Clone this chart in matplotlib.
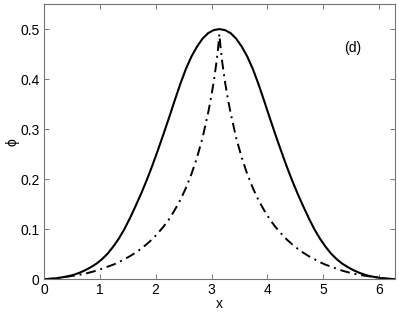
import numpy as np
import matplotlib.pyplot as plt

plt.rcParams["font.family"] = ["Liberation Sans", "DejaVu Sans"]

# solid curve
x_solid = [0, 0.14, 0.24, 0.34, 0.44, 0.54, 0.64, 0.74, 0.84, 0.94, 1.04, 1.14, 1.24,
           1.34, 1.44, 1.54, 1.64, 1.74, 1.84, 1.94, 2.04, 2.14, 2.24, 2.34, 2.44, 2.54,
           2.64, 2.74, 2.84, 2.94, 3.04, 3.14, 3.24, 3.34, 3.44, 3.54, 3.64, 3.74, 3.84,
           3.94, 4.04, 4.14, 4.24, 4.34, 4.44, 4.54, 4.64, 4.74, 4.84, 4.94, 5.04, 5.14,
           5.24, 5.34, 5.44, 5.54, 5.64, 5.74, 5.84, 5.94, 6.04, 6.14, 6.283]
phi_solid = [0, 0.001, 0.002, 0.004, 0.006, 0.009, 0.013, 0.018, 0.024, 0.031, 0.04,
             0.051, 0.065, 0.081, 0.1, 0.122, 0.146, 0.171, 0.198, 0.227, 0.258, 0.29,
             0.323, 0.357, 0.39, 0.42, 0.445, 0.465, 0.481, 0.492, 0.498, 0.5, 0.498,
             0.492, 0.481, 0.465, 0.445, 0.42, 0.39, 0.357, 0.323, 0.29, 0.258, 0.227,
             0.198, 0.171, 0.146, 0.122, 0.1, 0.081, 0.065, 0.051, 0.04, 0.031, 0.024,
             0.018, 0.013, 0.009, 0.006, 0.004, 0.002, 0.001, 0]

# dash-dot curve
x_dash = [0, 0.14, 0.34, 0.54, 0.74, 0.94, 1.04, 1.14, 1.24, 1.34, 1.44, 1.54, 1.64,
          1.74, 1.84, 1.94, 2.04, 2.14, 2.24, 2.34, 2.44, 2.54, 2.64, 2.74, 2.84, 2.94,
          2.99, 3.04, 3.09, 3.12, 3.14, 3.16, 3.19, 3.24, 3.29, 3.34, 3.44, 3.54, 3.64,
          3.74, 3.84, 3.94, 4.04, 4.14, 4.24, 4.34, 4.44, 4.54, 4.64, 4.74, 4.84, 4.94,
          5.04, 5.14, 5.24, 5.34, 5.54, 5.74, 5.94, 6.14, 6.283]
phi_dash = [0, 0.001, 0.004, 0.007, 0.011, 0.017, 0.021, 0.025, 0.029, 0.034, 0.04,
            0.046, 0.053, 0.061, 0.07, 0.08, 0.092, 0.105, 0.12, 0.138, 0.158, 0.182,
            0.21, 0.243, 0.283, 0.333, 0.362, 0.395, 0.435, 0.465, 0.49, 0.465, 0.435,
            0.395, 0.362, 0.333, 0.283, 0.243, 0.21, 0.182, 0.158, 0.138, 0.12, 0.105,
            0.092, 0.08, 0.07, 0.061, 0.053, 0.046, 0.04, 0.034, 0.029, 0.025, 0.021,
            0.017, 0.011, 0.007, 0.004, 0.001, 0]

xticks = [0, 1, 2, 3, 4, 5, 6]
yticks = [0, 0.1, 0.2, 0.3, 0.4, 0.5]
ytick_labels = ["0", "0.1", "0.2", "0.3", "0.4", "0.5"]

fig = plt.figure(figsize=(3.99, 3.13), dpi=100)
ax = fig.add_axes([0.110, 0.108, 0.880, 0.879])

ax.plot(x_solid, phi_solid, "-", color="black", lw=1.5)
ax.plot(x_dash, phi_dash, color="black", lw=1.4, linestyle=(0, (5, 2.5, 1, 2.5)))

ax.set_xlim(0, 2 * np.pi)
ax.set_ylim(0, 0.55)
ax.set_xticks(xticks)
ax.set_yticks(yticks)
ax.set_yticklabels(ytick_labels)
ax.tick_params(direction="in", top=True, right=True, length=3.5, width=0.6,
               color="0.4", labelsize=10, pad=3)
for s in ax.spines.values():
    s.set_color("0.45")
    s.set_linewidth(0.8)

ax.set_xlabel("x", fontsize=10)
ax.xaxis.set_label_coords(0.5, -0.09)
ax.xaxis.label.set_va("center")
ax.set_ylabel("\u03d5", fontsize=10)
ax.yaxis.set_label_coords(-0.088, 0.5)
ax.yaxis.label.set_va("center")
ax.text(5.37, 0.463, "(d)", fontsize=10, ha="left", va="center")

fig.savefig("out.png", dpi=100)
